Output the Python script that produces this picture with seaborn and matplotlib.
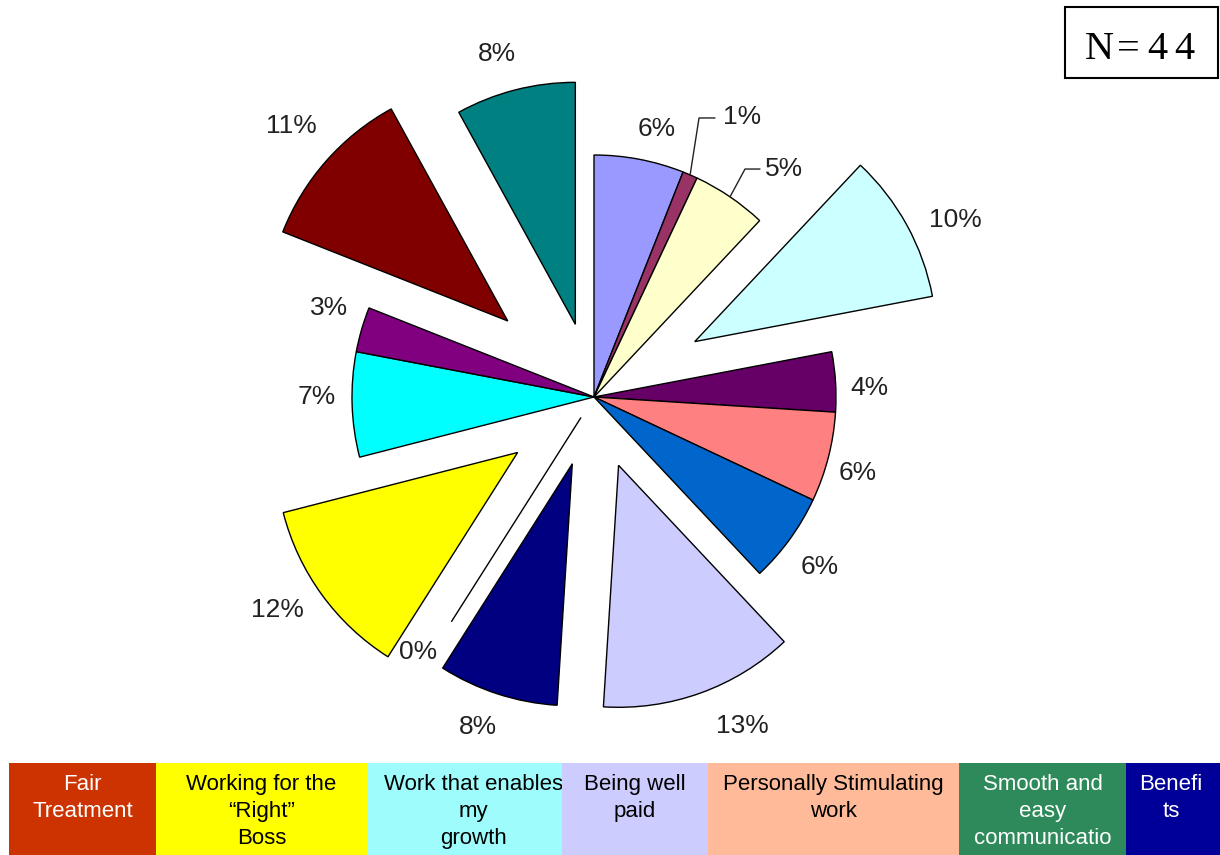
import matplotlib
matplotlib.use("Agg")
import matplotlib.pyplot as plt
import seaborn as sns
import numpy as np
from matplotlib.patches import Rectangle

# Percentage share of each slice, clockwise from 12 o'clock
shares = [6, 1, 5, 10, 4, 6, 6, 13, 8, 0, 12, 7, 3, 11, 8]
share_labels = [f"{v}%" for v in shares]
slice_colors = ["#9999FF", "#993366", "#FFFFCC", "#CCFFFF", "#660066",
                "#FF8080", "#0066CC", "#CCCCFF", "#000080", "#FF00FF",
                "#FFFF00", "#00FFFF", "#800080", "#800000", "#008080"]
explode = [0, 0, 0, 0.475, 0, 0, 0, 0.30, 0.29, 0.10, 0.39, 0, 0, 0.475, 0.31]

# Label anchor points (pie radius = 1)
label_xy = [(0.260, 1.107), (0.612, 1.157), (0.785, 0.942), (1.492, 0.731),
            (1.140, 0.037), (1.091, -0.314), (0.934, -0.702), (0.612, -1.360),
            (-0.479, -1.364), (-0.727, -1.054), (-1.310, -0.880), (-1.145, 0.0),
            (-1.095, 0.368), (-1.252, 1.120), (-0.401, 1.417)]
# Slices whose labels hang on a leader line: index -> (elbow, end)
leaders = {1: ((0.434, 1.153), (0.500, 1.153)),
           2: ((0.624, 0.942), (0.686, 0.942))}

# Legend strip along the bottom
strip_text = ["Fair\nTreatment", "Working for the\n\u201cRight\u201d\nBoss",
              "Work that enables\nmy\ngrowth", "Being well\npaid",
              "Personally Stimulating\nwork", "Smooth and\neasy\ncommunicatio",
              "Benefi\nts"]
strip_colors = ["#CC3300", "#FFFF00", "#9FFCFC", "#CCCCFF", "#FFBB99",
                "#2E8A5A", "#000099"]
strip_text_colors = ["white", "black", "black", "black", "black", "white", "white"]
strip_edges = [9, 156, 367, 562, 708, 959, 1126, 1220]
strip_text_shift = [0, 0, 9, 0, 0, 0, -2]

sample_size = "N=44"

sns.set_theme(style="white")
plt.rcParams["font.family"] = ["Liberation Sans", "DejaVu Sans"]

W, H = 1220, 855
fig = plt.figure(figsize=(W / 100, H / 100), dpi=100)
fig.patch.set_facecolor("white")

# Pie axes: centre at (594, 397) px, radius 242 px
cx, cy, R = 594, 397, 242
ax = fig.add_axes([0, 0, 1, 1])
wedges, _ = ax.pie(shares, colors=slice_colors, explode=explode,
                   startangle=90, counterclock=False, radius=1,
                   wedgeprops=dict(edgecolor="black", linewidth=1.0))
ax.set_xlim(-cx / R, (W - cx) / R)
ax.set_ylim(-(H - cy) / R, cy / R)
ax.set_aspect("auto")
ax.axis("off")

for i, (lab, (x, y)) in enumerate(zip(share_labels, label_xy)):
    ax.text(x, y, lab, ha="center", va="center", fontsize=19, color="#222222")

for i, (elbow, end) in leaders.items():
    w = wedges[i]
    mid = np.deg2rad((w.theta1 + w.theta2) / 2)
    start = (np.cos(mid), np.sin(mid))
    ax.plot([start[0], elbow[0], end[0]], [start[1], elbow[1], end[1]],
            color="#222222", lw=1.0)

# Overlay axes in pixel coordinates for the strip and the N box
ov = fig.add_axes([0, 0, 1, 1])
ov.set_xlim(0, W)
ov.set_ylim(H, 0)
ov.patch.set_alpha(0)
ov.axis("off")

top, bottom = 763, 855
for k, (txt, col, tcol) in enumerate(zip(strip_text, strip_colors, strip_text_colors)):
    x0, x1 = strip_edges[k], strip_edges[k + 1]
    rect = Rectangle((x0, top), x1 - x0, bottom - top, facecolor=col,
                     edgecolor="none", zorder=2 + k)
    ov.add_patch(rect)
    t = ov.text((x0 + x1) / 2 + strip_text_shift[k], 774, txt, ha="center",
                va="top", fontsize=16, color=tcol, linespacing=1.36,
                zorder=2 + k + 0.5, multialignment="center")
    t.set_clip_path(rect)

ov.add_patch(Rectangle((1065, 7), 153, 71, facecolor="white",
                       edgecolor="black", linewidth=1.5, zorder=5))
for ch, xc in zip(sample_size, [1099, 1128, 1157, 1184]):
    ov.text(xc, 59, ch, ha="center", va="baseline", fontsize=29,
            family=["Liberation Serif", "DejaVu Serif"], color="black",
            zorder=6)

fig.savefig("out.png", dpi=100, facecolor="white")
